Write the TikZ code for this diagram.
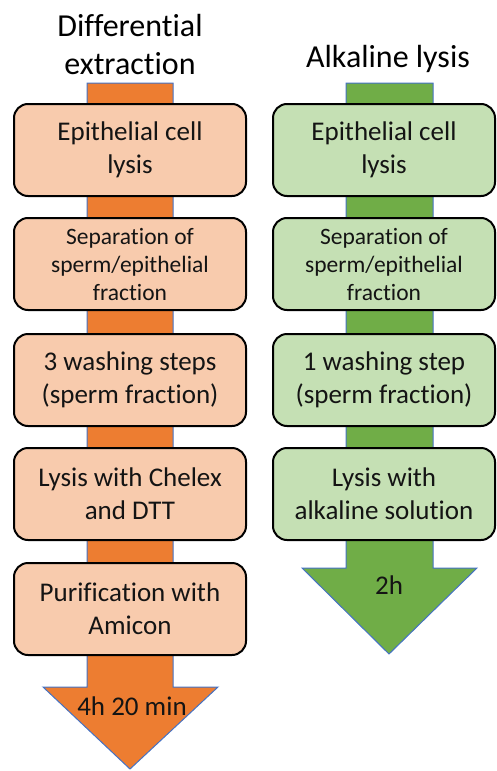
\documentclass[tikz,border=0pt]{standalone}
\usepackage{fontspec}
\setmainfont{Carlito}[RawFeature={-liga;-clig;-calt;-dlig}]
\definecolor{dxorange}{HTML}{ED7D31}
\definecolor{dxlight}{HTML}{F8CBAD}
\definecolor{algreen}{HTML}{70AD47}
\definecolor{allight}{HTML}{C5E0B4}
\definecolor{shaftblue}{HTML}{4472C4}
\definecolor{inktext}{HTML}{141414}
\tikzset{
  stepbox/.style={draw=black, line width=2pt, rounded corners=14pt, minimum height=92pt,
    align=center, inner sep=0pt, text=inktext, font=\fontsize{27}{33}\selectfont},
  smallstep/.style={font=\fontsize{23.5}{28}\selectfont},
  flowtitle/.style={align=center, inner sep=0pt, text=black, font=\fontsize{32}{38}\selectfont},
  timelabel/.style={inner sep=0pt, text=inktext, font=\fontsize{27}{33}\selectfont},
  bigarrow/.style={draw=shaftblue, line width=1pt, line join=miter}
}
\begin{document}
\begin{tikzpicture}[x=1pt,y=-1pt]
\useasboundingbox (0,0) rectangle (496,771);
% arrows behind the steps
\filldraw[bigarrow, fill=dxorange] (87,83) -- (173,83) -- (173,687) -- (218,687) -- (130,769) -- (43,687) -- (87,687) -- cycle;
\filldraw[bigarrow, fill=algreen] (346,83) -- (433,83) -- (433,568) -- (477,568) -- (389,654) -- (302,568) -- (346,568) -- cycle;
% titles
\node[flowtitle] (dxtitle) at (130,45) {Differential\\extraction};
\node[flowtitle, anchor=base] (altitle) at (388,67) {Alkaline lysis};
% differential extraction steps
\foreach \n/\y/\t in {1/150/{Epithelial cell\\lysis}, 3/380/{3 washing steps\\(sperm fraction)}, 4/494/{Lysis with Chelex\\and DTT}, 5/609/{Purification with\\Amicon}}
  \node[stepbox, fill=dxlight, minimum width=232pt] (dx\n) at (130,\y) {\t};
\node[stepbox, smallstep, fill=dxlight, minimum width=232pt] (dx2) at (130,264) {Separation of\\sperm/epithelial\\fraction};
% alkaline lysis steps
\foreach \n/\y/\t in {1/150/{Epithelial cell\\lysis}, 3/380/{1 washing step\\(sperm fraction)}, 4/494/{Lysis with\\alkaline solution}}
  \node[stepbox, fill=allight, minimum width=222pt] (al\n) at (384,\y) {\t};
\node[stepbox, smallstep, fill=allight, minimum width=222pt] (al2) at (384,264) {Separation of\\sperm/epithelial\\fraction};
% durations
\node[timelabel, anchor=base] (dxtime) at (132,715) {4h 20 min};
\node[timelabel, anchor=base] (altime) at (389,594) {2h};
\end{tikzpicture}
\end{document}
